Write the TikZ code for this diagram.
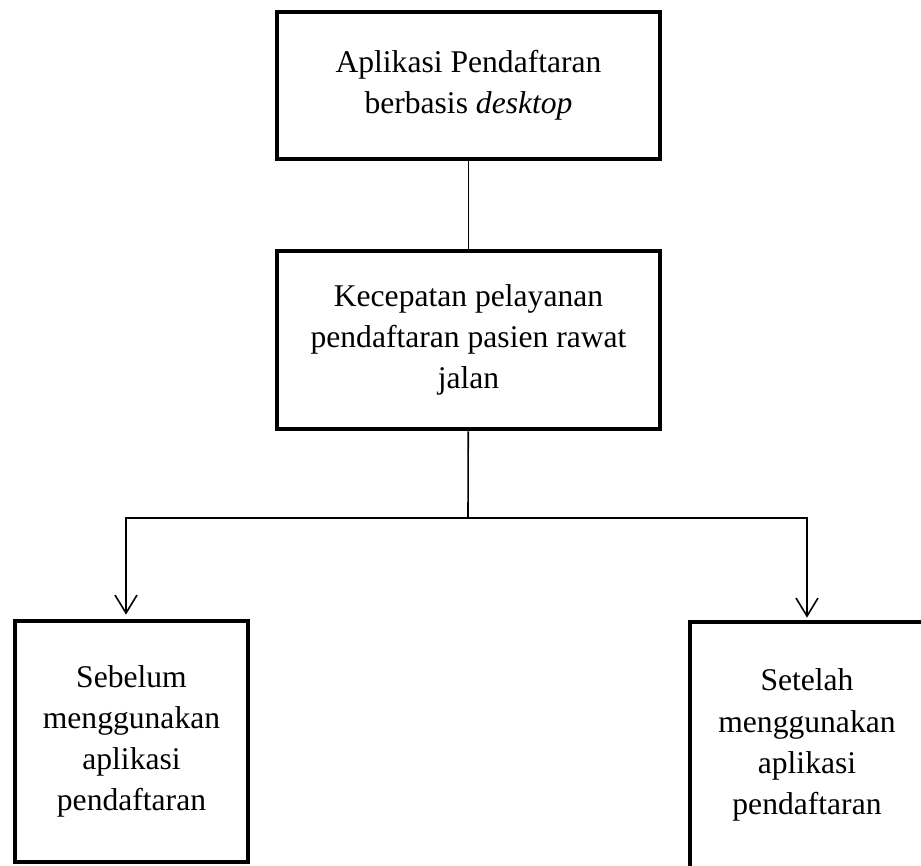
\documentclass[tikz,border=0pt]{standalone}
\usepackage{fontspec}
\setmainfont{Liberation Serif}
\usetikzlibrary{arrows.meta}
\begin{document}
\begin{tikzpicture}
  [x=0.5pt,y=-0.5pt,
   kotak/.style={draw,line width=2.4pt,align=center,inner sep=0pt,
     font=\fontsize{15.8}{20.6}\selectfont},
   garis/.style={line width=0.8pt},
   >={Straight Barb[length=9pt,width=11pt]}]
  \useasboundingbox (0,0) rectangle (921,866);

  \node[kotak,minimum width=191.5pt,minimum height=73.5pt] (aplikasi) at (468.5,85.5)
    {Aplikasi Pendaftaran\\berbasis \textit{desktop}};
  \node[kotak,minimum width=191.5pt,minimum height=89pt] (kecepatan) at (468.5,340)
    {Kecepatan pelayanan\\pendaftaran pasien rawat\\jalan};
  \node[kotak,minimum width=116.5pt,minimum height=120.5pt] (sebelum) at (131.5,741.5)
    {Sebelum\\menggunakan\\aplikasi\\pendaftaran};
  \node[kotak,minimum width=117pt,minimum height=123pt] (setelah) at (807,745)
    {Setelah\\menggunakan\\aplikasi\\pendaftaran};

  \coordinate (cabang) at (468,518);
  \coordinate (kiri) at (126,518);
  \coordinate (kanan) at (807,518);

  \draw[garis] (aplikasi) -- (kecepatan);
  \draw[garis] (kecepatan) -- (cabang);
  \draw[garis,->,shorten >=2pt] (cabang) -- (kiri) -- (kiri |- sebelum.north);
  \draw[garis,->,shorten >=1pt] (cabang) -- (kanan) -- (kanan |- setelah.north);

\end{tikzpicture}
\end{document}
